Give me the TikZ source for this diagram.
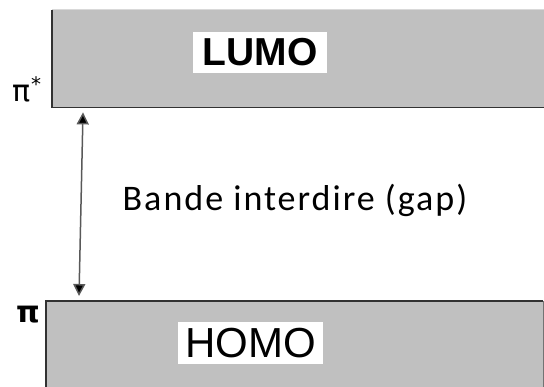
\documentclass[tikz,border=0pt]{standalone}
\usepackage{fontspec}
\setmainfont{Liberation Sans}
\newfontfamily\gapfont[LetterSpace=5.5]{Carlito}
\newfontfamily\symfont{DejaVu Sans}
\usetikzlibrary{arrows.meta,calc}
\definecolor{bandgray}{RGB}{192,192,192}
\definecolor{edgegray}{RGB}{50,50,50}

\begin{document}
\begin{tikzpicture}[
		x=1pt, y=1pt,
		band/.style={rectangle, fill=bandgray, inner sep=0pt, anchor=north west},
		tag/.style={rectangle, fill=white, inner sep=0pt, align=center},
		edge/.style={draw=edgegray, line width=1.6pt},
		arrow/.style={draw=black!65, line width=1.5pt, {Triangle[length=12pt,width=12pt,fill=black]}-{Triangle[length=12pt,width=12pt,fill=black]}}
		]
		\useasboundingbox (0,0) rectangle (544,387);
		
		% the two energy bands
		\node (lumoband) at (52,377) [band, minimum width=500, minimum height=97] {};
		\node (homoband) at (46,86) [band, minimum width=497, minimum height=100] {};
		\draw [black!15, line width=1pt] (lumoband.north west) -- (lumoband.north east);
		\draw [edge] (lumoband.north west) -- (lumoband.south west) -- (lumoband.south east);
		\draw [edge] (homoband.south west) -- (homoband.north west) -- (homoband.north east);
		\draw [black!55, line width=1.2pt] (homoband.north east) -- (homoband.south east);
		
		\node (lumo) at (260,334.5) [tag, minimum width=134, minimum height=41] {\fontsize{39}{39}\selectfont\bfseries LUMO};
		\node (homo) at (250.5,44) [tag, minimum width=145, minimum height=42] {\fontsize{42}{42}\selectfont HOMO};
		
		% orbital labels
		\node (pistar) at (27,298) {\fontsize{30}{30}\selectfont\symfont π\raisebox{10pt}{\fontsize{20}{20}\selectfont *}};
		\node (pi) at (28,72) {\fontsize{30}{30}\selectfont\symfont\bfseries π};
		
		% the gap between them
		\draw [arrow] ($(lumoband.south west)+(31,-5)$) -- ($(homoband.north west)+(33,5)$);
		\node (gap) at (295,187) {\fontsize{36}{36}\selectfont\gapfont Bande interdire (gap)};
	\end{tikzpicture}
\end{document}
